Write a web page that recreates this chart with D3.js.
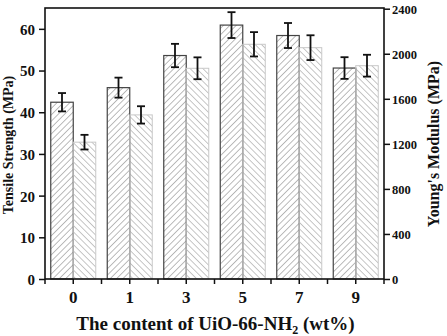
<!DOCTYPE html>
<html>
<head>
<meta charset="utf-8">
<script src="https://cdn.jsdelivr.net/npm/d3@7"></script>
<style>
  body { margin: 0; background: #fff; }
  svg text { font-family: "Liberation Serif", "Times New Roman", serif !important; font-weight: 700 !important; fill: #111; }
</style>
</head>
<body>
<div id="chart"></div>
<script>
const width = 447;
const height = 336;
const marginTop = 8;
const marginBottom = 57;
const marginLeft = 45;
const marginRight = 63;

const categories = ["0", "1", "3", "5", "7", "9"];
const tensile = [42.4, 45.9, 53.6, 60.9, 58.4, 50.6];
const tensileErr = [2.2, 2.4, 2.8, 3.1, 3.0, 2.6];
const modulus = [1215, 1457, 1871, 2084, 2054, 1894];
const modulusErr = [65, 77, 97, 108, 110, 97];
const leftTicks = [0, 10, 20, 30, 40, 50, 60];
const rightTicks = [0, 400, 800, 1200, 1600, 2000, 2400];

const svg = d3.select("#chart").append("svg")
    .attr("width", width)
    .attr("height", height);

const defs = svg.append("defs");
defs.append("pattern")
    .attr("id", "hatchA")
    .attr("patternUnits", "userSpaceOnUse")
    .attr("width", 4.5).attr("height", 4.5)
    .attr("patternTransform", "rotate(45)")
    .append("line")
    .attr("x1", 0).attr("y1", 0).attr("x2", 0).attr("y2", 4.5)
    .attr("stroke", "#777").attr("stroke-width", 1);
defs.append("pattern")
    .attr("id", "hatchB")
    .attr("patternUnits", "userSpaceOnUse")
    .attr("width", 4.5).attr("height", 4.5)
    .attr("patternTransform", "rotate(-45)")
    .append("line")
    .attr("x1", 0).attr("y1", 0).attr("x2", 0).attr("y2", 4.5)
    .attr("stroke", "#8c8c8c").attr("stroke-width", 1);

const x = d3.scaleBand()
    .domain(categories)
    .range([marginLeft, width - marginRight]);

const yL = d3.scaleLinear()
    .domain([0, 65])
    .range([height - marginBottom, marginTop]);

const yR = d3.scaleLinear()
    .domain([0, 2400])
    .range([height - marginBottom, marginTop + 0.7]);

const barW = 22.5;

// tensile bars
svg.selectAll(".barA")
    .data(tensile)
    .enter().append("rect")
    .attr("class", "barA")
    .attr("x", (d, i) => x(categories[i]) + x.bandwidth() / 2 - barW)
    .attr("y", d => yL(d))
    .attr("width", barW)
    .attr("height", d => yL(0) - yL(d))
    .attr("fill", "url(#hatchA)")
    .attr("stroke", "#444")
    .attr("stroke-width", 1.2);

// modulus bars
svg.selectAll(".barB")
    .data(modulus)
    .enter().append("rect")
    .attr("class", "barB")
    .attr("x", (d, i) => x(categories[i]) + x.bandwidth() / 2)
    .attr("y", d => yR(d))
    .attr("width", barW)
    .attr("height", d => yR(0) - yR(d))
    .attr("fill", "url(#hatchB)")
    .attr("stroke", "#c8c8c8")
    .attr("stroke-width", 1);

// error bars
function errorBars(vals, errs, scale, offset) {
    const g = svg.append("g")
        .attr("stroke", "#111")
        .attr("stroke-width", 1.8);
    vals.forEach((v, i) => {
        const cx = x(categories[i]) + x.bandwidth() / 2 + offset;
        const y1 = scale(v - errs[i]);
        const y2 = scale(v + errs[i]);
        g.append("line").attr("x1", cx).attr("x2", cx).attr("y1", y1).attr("y2", y2);
        g.append("line").attr("x1", cx - 4).attr("x2", cx + 4).attr("y1", y1).attr("y2", y1);
        g.append("line").attr("x1", cx - 4).attr("x2", cx + 4).attr("y1", y2).attr("y2", y2);
    });
}
errorBars(tensile, tensileErr, yL, -barW / 2);
errorBars(modulus, modulusErr, yR, barW / 2);

// frame
svg.append("rect")
    .attr("x", marginLeft)
    .attr("y", marginTop)
    .attr("width", width - marginRight - marginLeft)
    .attr("height", height - marginBottom - marginTop)
    .attr("fill", "none")
    .attr("stroke", "#111")
    .attr("stroke-width", 1.6);

// left axis
const axL = svg.append("g")
    .attr("transform", `translate(${marginLeft},0)`);
axL.call(d3.axisLeft(yL).tickValues(d3.range(5, 65, 10)).tickSize(3).tickFormat(""));
axL.call(d3.axisLeft(yL).tickValues(leftTicks).tickSize(6).tickPadding(4));
axL.selectAll(".domain").remove();
axL.selectAll("line").attr("stroke", "#111").attr("stroke-width", 1.5);
axL.selectAll("text").style("font-size", "15px").attr("dy", "0.36em");

// right axis
const axR = svg.append("g")
    .attr("transform", `translate(${width - marginRight},0)`);
axR.call(d3.axisRight(yR).tickValues(d3.range(200, 2400, 400)).tickSize(3).tickFormat(""));
axR.call(d3.axisRight(yR).tickValues(rightTicks).tickSize(6).tickPadding(2).tickFormat(d3.format("d")));
axR.selectAll(".domain").remove();
axR.selectAll("line").attr("stroke", "#111").attr("stroke-width", 1.5);
axR.selectAll("text").style("font-size", "12.5px").attr("dy", "0.36em");

// bottom axis
const axB = svg.append("g")
    .attr("transform", `translate(0,${height - marginBottom})`);
axB.call(d3.axisBottom(x).tickSize(5).tickPadding(7));
axB.selectAll(".domain").remove();
axB.selectAll("line").attr("stroke", "#111").attr("stroke-width", 1.5);
axB.selectAll("text").style("font-size", "17px");
axB.selectAll(".edge")
    .data(d3.range(categories.length + 1))
    .enter().append("line")
    .attr("x1", i => marginLeft + i * x.step())
    .attr("x2", i => marginLeft + i * x.step())
    .attr("y1", 0).attr("y2", 5)
    .attr("stroke", "#111").attr("stroke-width", 1.5);

// axis titles
svg.append("text")
    .attr("transform", `translate(13,${marginTop + 137}) rotate(-90)`)
    .attr("text-anchor", "middle")
    .style("font-size", "14px")
    .text("Tensile Strength (MPa)");

svg.append("text")
    .attr("transform", `translate(439,${marginTop + 136}) rotate(-90)`)
    .attr("text-anchor", "middle")
    .style("font-size", "16px")
    .text("Young's Modulus (MPa)");

const xt = svg.append("text")
    .attr("x", (marginLeft + width - marginRight) / 2 + 1)
    .attr("y", 330)
    .attr("text-anchor", "middle")
    .style("font-size", "19px");
xt.append("tspan").text("The content of UiO-66-NH");
xt.append("tspan").attr("dy", 4).style("font-size", "12px").text("2");
xt.append("tspan").attr("dy", -4).text(" (wt%)");
</script>
</body>
</html>
